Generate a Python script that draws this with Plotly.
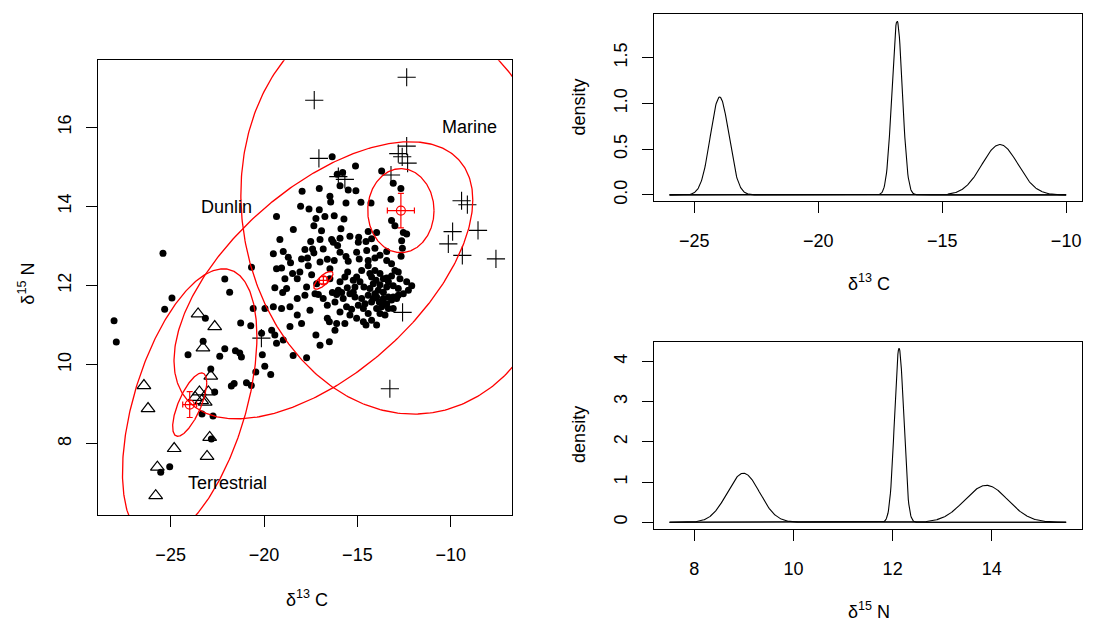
import numpy as np
import plotly.graph_objects as go

# ---------------- data ----------------
# Dunlin (consumer) isotope values
dunlin_c = [
    -18.04, -17.59, -17.04, -16.43, -15.61, -14.81, -14.27,
    -19.33, -17.22, -16.74, -16.24, -15.72,
    -18.43, -17.33, -15.88, -15.40, -14.93, -14.42, -13.97, -13.17, -12.99, -12.54, -12.36, -12.63, -12.59, -12.66,
    -19.15, -17.50, -17.00, -16.38, -16.06, -14.95, -14.54, -14.24, -13.43, -17.81, -17.40, -17.33, -19.50, -18.97, -15.04, -14.06,
    -17.99, -17.67, -16.61, -16.24, -15.61, -15.49, -14.90, -14.42, -14.06, -18.58, -14.42,
    -19.06, -18.08, -18.47, -17.45, -16.47, -15.52, -15.04, -14.06, -13.79, -12.99, -12.81, -18.88, -18.22, -13.43, -13.17,
    -19.42, -19.00, -17.18, -16.34, -16.11, -15.84, -15.54, -15.22, -14.86, -14.65, -14.33, -14.15, -14.00, -13.79, -13.34, -13.08, -12.81, -12.54, -12.09, -12.27,
    -18.22, -17.81, -17.09, -15.58, -15.13, -14.77, -14.42, -14.15, -13.97, -13.83, -13.61, -13.34, -13.08, -12.81,
    -20.58, -19.95, -19.50, -19.06, -18.61, -17.54, -16.61, -15.31, -14.68, -14.42, -13.97, -13.79, -13.61,
    -18.22, -17.99, -16.61, -16.50, -16.11, -15.67, -14.68, -14.54, -18.61,
    -20.13, -19.59, -19.42, -18.97, -19.33, -17.22, -17.00, -16.50, -16.20, -20.67,
    -14.24, -13.61, -13.88, -13.61, -13.43, -14.06, -14.24, -13.70, -13.43, -13.17, -14.59, -14.95, -15.13, -15.40,
    -15.76, -16.02, -12.72, -12.36, -12.90, -14.33, -14.77, -15.22, -14.50, -13.79, -13.43, -13.17, -15.93, -16.83,
    -17.00, -17.63, -16.47, -15.93, -15.67,
    -16.92, -16.29, -15.93, -18.70, -19.33, -18.79, -17.72, -17.27, -16.83, -16.20, -15.93, -15.40, -15.04, -13.34,
    -13.08, -14.24, -13.97, -13.52,
    -17.96, -16.35, -15.10, -16.08, -15.79, -13.70, -13.08, -12.67, -17.04, -15.93, -15.49, -15.08, -16.47, -13.20,
    -25.41, -22.10, -21.84, -24.93, -25.32, -28.03, -27.91, -23.14, -21.25, -20.71,
    -24.07, -23.26, -22.10, -22.37, -21.53, -21.30, -21.21, -20.09, -19.96, -19.64, -20.44, -21.60, -21.75, -20.94,
    -20.68, -22.85, -22.64, -23.32, -22.73, -22.82, -25.05, -25.53, -18.44, -17.72,
]
dunlin_n = [
    14.00, 13.93, 13.91, 14.11, 14.08, 14.10, 14.08,
    13.74, 13.69, 13.74, 13.76, 13.68,
    13.41, 13.51, 13.43, 13.24, 13.22, 13.36, 13.34, 13.64, 13.51, 13.34, 13.30, 13.13, 12.94, 12.74,
    13.16, 13.11, 13.16, 13.16, 13.01, 13.09, 13.11, 13.18, 12.86, 12.91, 12.92, 12.82, 12.80, 12.86, 12.84, 12.94,
    12.67, 12.69, 12.66, 12.63, 12.73, 12.61, 12.67, 12.63, 12.69, 12.57, 12.50,
    12.44, 12.34, 12.30, 12.27, 12.42, 12.34, 12.21, 12.38, 12.30, 12.38, 12.34, 12.17, 12.17, 12.19, 12.24,
    11.94, 11.82, 12.04, 11.82, 11.77, 11.82, 11.94, 11.83, 12.09, 11.96, 11.92, 12.04, 12.13, 12.02, 12.09, 11.99, 11.92, 11.79, 11.99, 11.88,
    11.67, 11.75, 11.77, 11.46, 11.71, 11.67, 11.75, 11.67, 11.71, 11.58, 11.67, 11.71, 11.71, 11.75,
    11.42, 11.42, 11.46, 11.42, 11.46, 11.37, 11.50, 11.40, 11.42, 11.29, 11.42, 11.29, 11.52,
    11.25, 11.04, 11.17, 11.08, 11.04, 11.04, 11.08, 11.00, 10.96,
    10.79, 10.87, 10.75, 10.62, 10.54, 10.75, 10.49, 10.58, 10.87, 12.46,
    12.21, 12.17, 11.88, 11.83, 11.96, 11.79, 11.58, 11.46, 11.54, 11.63, 11.54, 11.50, 11.96, 11.79,
    11.67, 11.88, 12.17, 12.09, 11.67, 12.30, 12.38, 12.13, 12.88, 12.76, 12.63, 12.55, 12.84, 12.92,
    12.59, 12.50, 12.17, 12.09, 12.21,
    13.38, 13.09, 13.19, 12.71, 12.42, 11.92, 11.96, 11.79, 11.67, 11.58, 11.33, 11.25, 11.17, 11.42,
    11.42, 11.12, 11.00, 11.25,
    14.38, 15.25, 15.02, 14.81, 14.85, 14.89, 14.58, 14.45, 14.45, 14.52, 14.41, 14.39, 14.25, 14.18,
    12.81, 12.16, 11.83, 11.68, 11.40, 11.11, 10.57, 11.17, 11.05, 10.98,
    10.25, 10.59, 10.40, 10.21, 10.35, 10.29, 10.19, 10.25, 9.96, 9.75, 9.81, 9.52, 9.46, 9.54,
    9.47, 9.89, 9.31, 8.75, 8.70, 8.12, 7.42, 7.28, 10.23, 10.17,
]

# Terrestrial source samples
terr_c = [-23.53, -22.64, -23.27, -26.43, -26.21, -22.85, -23.46, -22.98,
          -23.34, -23.69, -22.91, -24.81, -23.05, -25.71, -25.80, -23.15]
terr_n = [11.28, 10.96, 10.42, 9.47, 8.89, 9.71, 9.31, 9.31,
          9.09, 9.17, 8.16, 7.88, 7.68, 7.41, 6.69, 9.05]

# Marine source samples
marine_c = [-12.36, -17.31, -12.36, -12.81, -12.60, -12.31, -17.06, -13.20, -16.02, -15.67,
            -9.42, -9.11, -9.90, -8.54, -10.13, -9.38, -7.58, -12.58, -13.26, -20.14]
marine_n = [17.26, 16.68, 15.52, 15.33, 15.25, 15.09, 15.21, 14.79, 14.75, 14.68,
            14.14, 14.04, 13.36, 13.39, 13.05, 12.76, 12.67, 11.32, 9.39, 10.67]

# Group summaries: Terrestrial, Dunlin, Marine
group_names = ["Terrestrial", "Dunlin", "Marine"]
mean_c = [-23.98, -16.82, -12.67]
mean_n = [8.99, 12.13, 13.89]
sd_c = [0.373, 0.21, 0.725]
sd_n = [0.327, 0.0923, 0.434]
mean_rho = [0.70, 0.75, 0.0]           # correlation of the mean ellipses
ell_scale = 2.448                      # 95% bivariate scale
big_half_c = [3.6, 8.0, 8.57]          # half-extent of the large ellipses (C)
big_half_n = [3.43, 3.5, 5.14]         # half-extent of the large ellipses (N)
big_rho = [0.50, 0.58, -0.08]
label_c = [-21.93, -22.0, -9.02]
label_n = [7.01, 13.99, 15.99]

# Density ranges
dens_c_range = [-26.0, -10.0]
dens_n_range = [7.5, 15.5]

# ---------------- figure ----------------
W, H = 1094, 624
FONT = "Liberation Sans, Arial, Helvetica, sans-serif"

fig = go.Figure()

fig.add_trace(go.Scatter(x=dunlin_c, y=dunlin_n, mode="markers",
                         marker=dict(symbol="circle", size=7, color="black", line=dict(width=0)),
                         xaxis="x", yaxis="y", showlegend=False))
fig.add_trace(go.Scatter(x=terr_c, y=terr_n, mode="markers",
                         marker=dict(symbol="triangle-up-open", size=12, color="black", line=dict(width=1.2)),
                         xaxis="x", yaxis="y", showlegend=False))
fig.add_trace(go.Scatter(x=marine_c, y=marine_n, mode="markers",
                         marker=dict(symbol="cross-thin-open", size=13, color="black", line=dict(width=1.1, color="black")),
                         xaxis="x", yaxis="y", showlegend=False))


def ellipse(cx, cy, hx, hy, rho, n=400):
    t = np.linspace(0, 2 * np.pi, n)
    ex = cx + hx * np.cos(t)
    ey = cy + hy * (rho * np.cos(t) + np.sqrt(1 - rho * rho) * np.sin(t))
    return ex, ey


for i in range(3):
    ex, ey = ellipse(mean_c[i], mean_n[i], big_half_c[i], big_half_n[i], big_rho[i])
    fig.add_trace(go.Scatter(x=ex, y=ey, mode="lines", line=dict(color="red", width=1.3),
                             xaxis="x", yaxis="y", showlegend=False, hoverinfo="skip"))
    ex, ey = ellipse(mean_c[i], mean_n[i], ell_scale * sd_c[i], ell_scale * sd_n[i], mean_rho[i])
    fig.add_trace(go.Scatter(x=ex, y=ey, mode="lines", line=dict(color="red", width=1.3),
                             xaxis="x", yaxis="y", showlegend=False, hoverinfo="skip"))
    fig.add_trace(go.Scatter(x=[mean_c[i]], y=[mean_n[i]], mode="markers",
                             marker=dict(symbol="circle-open", size=9, color="red", line=dict(width=1.2)),
                             error_x=dict(type="data", array=[sd_c[i]], color="red", thickness=1.2, width=3),
                             error_y=dict(type="data", array=[sd_n[i]], color="red", thickness=1.2, width=3),
                             xaxis="x", yaxis="y", showlegend=False))

for i in range(3):
    fig.add_annotation(x=label_c[i], y=label_n[i], xref="x", yref="y", text=group_names[i],
                       showarrow=False, font=dict(family=FONT, size=18, color="black"))

# densities
gc = np.linspace(dens_c_range[0], dens_c_range[1], 800)
gn = np.linspace(dens_n_range[0], dens_n_range[1], 800)
for i in range(3):
    dc = np.exp(-0.5 * ((gc - mean_c[i]) / sd_c[i]) ** 2) / (sd_c[i] * np.sqrt(2 * np.pi))
    fig.add_trace(go.Scatter(x=gc, y=dc, mode="lines", line=dict(color="black", width=1.1),
                             xaxis="x2", yaxis="y2", showlegend=False))
    dn = np.exp(-0.5 * ((gn - mean_n[i]) / sd_n[i]) ** 2) / (sd_n[i] * np.sqrt(2 * np.pi))
    fig.add_trace(go.Scatter(x=gn, y=dn, mode="lines", line=dict(color="black", width=1.1),
                             xaxis="x3", yaxis="y3", showlegend=False))

common = dict(showline=True, linecolor="black", linewidth=1, mirror=True,
              ticks="outside", ticklen=11, tickwidth=1, tickcolor="black",
              showgrid=False, zeroline=False,
              tickfont=dict(family=FONT, size=18, color="black"))
xcommon = dict(common, ticklabelstandoff=12)
ycommon = dict(common, tickangle=-90, ticklabelstandoff=8)

fig.update_layout(
    width=W, height=H,
    margin=dict(l=0, r=0, t=0, b=0),
    paper_bgcolor="white", plot_bgcolor="white",
    font=dict(family=FONT, size=18, color="black"),
    xaxis=dict(xcommon, domain=[98 / W, 512 / W], range=[-28.89, -6.72],
               tickvals=[-25, -20, -15, -10], anchor="y"),
    yaxis=dict(ycommon, domain=[(H - 517.5) / H, (H - 60.5) / H], range=[6.20, 17.69],
               tickvals=[8, 10, 12, 14, 16], anchor="x"),
    xaxis2=dict(xcommon, domain=[653.7 / W, 1082 / W], range=[-26.64, -9.36],
                tickvals=[-25, -20, -15, -10], anchor="y2"),
    yaxis2=dict(ycommon, domain=[(H - 202.3) / H, (H - 14) / H], range=[-0.07, 1.977],
                tickvals=[0, 0.5, 1.0, 1.5], ticktext=["0.0", "0.5", "1.0", "1.5"], anchor="x2"),
    xaxis3=dict(xcommon, domain=[653.7 / W, 1082 / W], range=[7.18, 15.82],
                tickvals=[8, 10, 12, 14], anchor="y3"),
    yaxis3=dict(ycommon, domain=[(H - 531.7) / H, (H - 343.3) / H], range=[-0.17, 4.49],
                tickvals=[0, 1, 2, 3, 4], anchor="x3"),
)

titles = [
    ("δ<sup>13</sup> C", 307, 601, 0),
    ("δ<sup>15</sup> N", 27, 285, -90),
    ("δ<sup>13</sup> C", 869, 284, 0),
    ("density", 579, 108, -90),
    ("δ<sup>15</sup> N", 869, 613, 0),
    ("density", 579, 437, -90),
]
for txt, px, py, ang in titles:
    fig.add_annotation(x=px / W, y=1 - py / H, xref="paper", yref="paper", text=txt,
                       showarrow=False, textangle=ang, xanchor="center", yanchor="middle",
                       font=dict(family=FONT, size=18, color="black"))

fig.write_html("out.html")
